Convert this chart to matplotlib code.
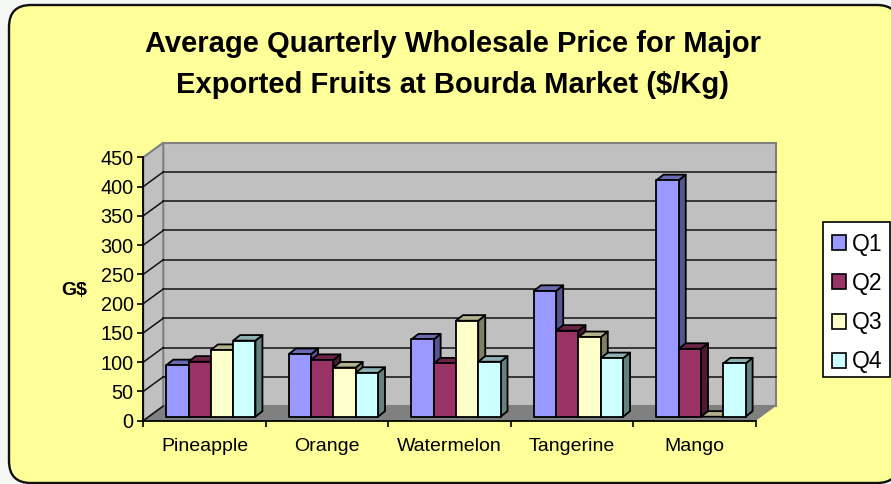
import matplotlib
matplotlib.use("Agg")
import matplotlib.pyplot as plt
from matplotlib.patches import FancyBboxPatch, Polygon, Patch, Rectangle

plt.rcParams['font.family'] = ['Liberation Sans', 'DejaVu Sans']

fruits = ["Pineapple", "Orange", "Watermelon", "Tangerine", "Mango"]
q1 = [88, 107, 132, 215, 404]
q2 = [94, 97, 91, 147, 116]
q3 = [114, 84, 164, 136, 0]
q4 = [130, 75, 94, 100, 91]
quarters = ["Q1", "Q2", "Q3", "Q4"]
yticks = [0, 50, 100, 150, 200, 250, 300, 350, 400, 450]

front = ["#9999FF", "#993366", "#FFFFCC", "#CCFFFF"]
tops = ["#6A6AB2", "#6B2347", "#B2B28E", "#8EB2B2"]
sides = ["#55558F", "#4D1A33", "#808066", "#668080"]

W, H = 891, 484
fig = plt.figure(figsize=(W / 100, H / 100), dpi=100, facecolor="#F5F7F5")

# background panel and legend frame, in pixels
bg = fig.add_axes([0, 0, 1, 1])
bg.set_xlim(0, W)
bg.set_ylim(H, 0)
bg.axis("off")
bg.add_patch(FancyBboxPatch((31, 27), 846, 434, boxstyle="round,pad=22,rounding_size=22",
                            facecolor="#FFFF99", edgecolor="#111111", lw=1.7, clip_on=False))
bg.add_patch(Rectangle((823, 222), 67, 155, fc="white", ec="black", lw=1.2))

L, R, T, B = 143.3, 756.0, 157.3, 420.7
ax = fig.add_axes([L / W, 1 - B / H, (R - L) / W, (B - T) / H])
ax.set_xlim(0, 5)
ax.set_ylim(0, 450)
ax.patch.set_visible(False)

# depth of the box and of the bars, in data units
dx = 20 / 122.6
dy = 25
bar_dx = 7 / 122.6
bar_dy = 9.5
bar_w = 22.3 / 122.6
bar_x0 = 23 / 122.6
floor = 6.8

wall_edge = "#808080"
ax.add_patch(Polygon([(dx, dy), (5 + dx, dy), (5 + dx, 450 + dy), (dx, 450 + dy)],
                     fc="#C0C0C0", ec=wall_edge, lw=1.5, clip_on=False, zorder=1))
ax.add_patch(Polygon([(0, 0), (dx, dy), (dx, 450 + dy), (0, 450)],
                     fc="#C0C0C0", ec=wall_edge, lw=1.5, clip_on=False, zorder=1))
ax.add_patch(Polygon([(0, 0), (5, 0), (5 + dx, dy), (dx, dy)],
                     fc="#808080", ec="none", clip_on=False, zorder=1))

for v in yticks[1:-1]:
    ax.plot([dx, 5 + dx], [v + dy, v + dy], color="#111111", lw=1.1, clip_on=False, zorder=2)
for v in yticks[:-1]:
    ax.plot([0, dx], [v, v + dy], color="#111111", lw=1.1, clip_on=False, zorder=2)

z = 3
for i in range(len(fruits)):
    for j, vals in enumerate([q1, q2, q3, q4]):
        x0 = i + bar_x0 + j * bar_w
        x1 = x0 + bar_w
        y0 = floor
        y1 = floor + vals[i]
        ax.add_patch(Polygon([(x1, y0), (x1 + bar_dx, y0 + bar_dy), (x1 + bar_dx, y1 + bar_dy), (x1, y1)],
                             fc=sides[j], ec="black", lw=1.3, clip_on=False, zorder=z, joinstyle="round"))
        ax.add_patch(Polygon([(x0, y1), (x1, y1), (x1 + bar_dx, y1 + bar_dy), (x0 + bar_dx, y1 + bar_dy)],
                             fc=tops[j], ec="black", lw=1.3, clip_on=False, zorder=z, joinstyle="round"))
        if vals[i] > 0:
            ax.add_patch(Polygon([(x0, y0), (x1, y0), (x1, y1), (x0, y1)],
                                 fc=front[j], ec="black", lw=1.3, clip_on=False, zorder=z + 0.5, joinstyle="round"))
        z += 1

for s in ["top", "right"]:
    ax.spines[s].set_visible(False)
for s in ["left", "bottom"]:
    ax.spines[s].set_linewidth(1.3)
    ax.spines[s].set_zorder(50)

ax.set_yticks(yticks)
ax.set_xticks(range(6))
ax.set_xticklabels([])
ax.set_xticks([i + 0.5 for i in range(5)], minor=True)
ax.set_xticklabels(fruits, minor=True)
ax.tick_params(axis="x", which="minor", length=0, labelsize=14, pad=12.5)
ax.tick_params(axis="x", which="major", length=4, width=1.2)
ax.tick_params(axis="y", length=4, width=1.2, labelsize=14.3, pad=3)
ax.set_ylabel("G$", fontsize=14, fontweight="bold", rotation=0, labelpad=0)
ax.yaxis.set_label_coords(-0.112, 0.494)
ax.yaxis.label.set_verticalalignment("center")

fig.text(453 / W, 1 - 64.5 / H, "Average Quarterly Wholesale Price for Major\nExported Fruits at Bourda Market ($/Kg)",
         ha="center", va="center", fontsize=21, fontweight="bold", linespacing=1.56)

handles = [Patch(fc=front[k], ec="black", lw=1.2) for k in range(4)]
leg = fig.legend(handles, quarters, loc="upper left", bbox_to_anchor=(831.7 / W, 1 - 233 / H),
                 fontsize=16.5, frameon=False,
                 handlelength=0.63, handleheight=0.63, handletextpad=0.27, labelspacing=0.70,
                 borderpad=0, borderaxespad=0)

fig.savefig("out.png", dpi=100)
